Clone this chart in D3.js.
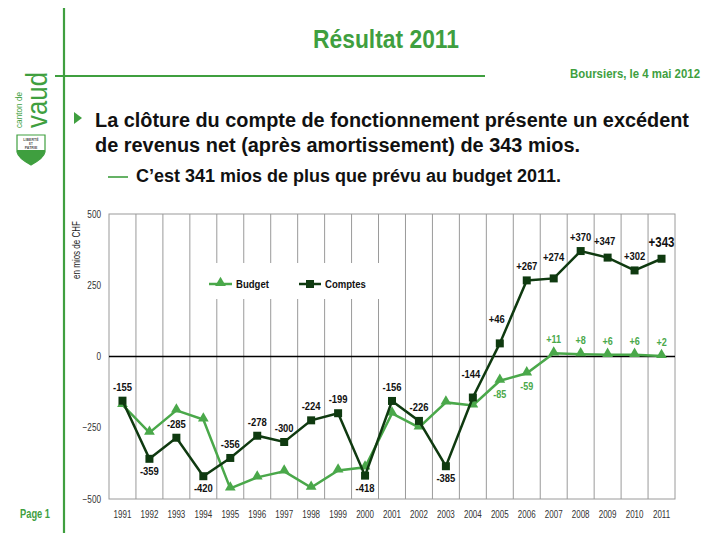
<!DOCTYPE html>
<html><head><meta charset="utf-8">
<script src="https://cdn.jsdelivr.net/npm/d3@7"></script>
<style>
html,body{margin:0;padding:0;background:#fff;}
svg{display:block;}
</style></head>
<body>
<svg id="c" width="720" height="540"></svg>
<script>
// ---- data ----
const years = ["1991","1992","1993","1994","1995","1996","1997","1998","1999","2000","2001","2002","2003","2004","2005","2006","2007","2008","2009","2010","2011"];
const comptes = [-155,-359,-285,-420,-356,-278,-300,-224,-199,-418,-156,-226,-385,-144,46,267,274,370,347,302,343];
const budget = [-170,-267,-189,-221,-463,-424,-403,-460,-400,-389,-200,-249,-161,-172,-85,-59,11,8,6,6,2];
const budgetLabelled = ["2005","2006","2007","2008","2009","2010","2011"];
const yTicks = [500,250,0,-250,-500];
const seriesNames = ["Budget","Comptes"];

// ---- layout / style ----
const FN = "'Liberation Sans Narrow','Arial Narrow','Liberation Sans',Arial,sans-serif";
const FW = "'Liberation Sans',Arial,Helvetica,sans-serif";
const G = "#3f9f3f";
const cBudget = "#4aa84a", cComptes = "#0f3a10";
const below = new Set(["1992","1994","2000","2003"]);
const extraUp = {"2004":[-2,-10],"2005":[-3,-10],"2007":[0,-7],"2009":[-3,-3],"2011":[0,-2]};

function condense(sel, f){
  sel.each(function(){
    const w = this.getComputedTextLength();
    d3.select(this).attr("textLength", w*f).attr("lengthAdjust","spacingAndGlyphs");
  });
  return sel;
}

const svg = d3.select("#c");

// slide decoration
svg.append("line").attr("x1",64).attr("x2",64).attr("y1",8).attr("y2",533).attr("stroke",G).attr("stroke-width",2.2);
svg.append("line").attr("x1",55).attr("x2",485).attr("y1",76).attr("y2",76).attr("stroke",G).attr("stroke-width",2.2);
svg.append("text").attr("x",386).attr("y",48).attr("text-anchor","middle").attr("font-family",FN).attr("font-weight","bold").attr("font-size",25).attr("fill",G).attr("textLength",146).attr("lengthAdjust","spacingAndGlyphs").text("Résultat 2011");
svg.append("text").attr("x",700).attr("y",78).attr("text-anchor","end").attr("font-family",FN).attr("font-weight","bold").attr("font-size",12.5).attr("fill",G).attr("textLength",130).attr("lengthAdjust","spacingAndGlyphs").text("Boursiers, le 4 mai 2012");
svg.append("text").attr("x",20).attr("y",518).attr("font-family",FN).attr("font-weight","bold").attr("font-size",12).attr("fill",G).attr("textLength",30).attr("lengthAdjust","spacingAndGlyphs").text("Page 1");

// logo
svg.append("text").attr("transform","translate(47,128) rotate(-90)").attr("font-family",FW).attr("font-size",29).attr("fill",G).attr("textLength",56).attr("lengthAdjust","spacingAndGlyphs").text("vaud");
svg.append("text").attr("transform","translate(22,128) rotate(-90)").attr("font-family",FW).attr("font-size",9.5).attr("fill",G).attr("textLength",36).attr("lengthAdjust","spacingAndGlyphs").text("canton de");
const sh = svg.append("g");
sh.append("path").attr("d","M17,150 L45,150 L45,152 Q44,158 31,165 Q18,158 17,152 Z").attr("fill",G);
sh.append("path").attr("d","M17,135 L45,135 L45,152 Q44,158 31,165 Q18,158 17,152 Z").attr("fill","none").attr("stroke",G).attr("stroke-width",1.2);
sh.append("text").attr("x",31).attr("y",141).attr("text-anchor","middle").attr("font-family",FW).attr("font-size",3.6).attr("font-weight","bold").attr("fill","#555").text("LIBERTÉ");
sh.append("text").attr("x",31).attr("y",145).attr("text-anchor","middle").attr("font-family",FW).attr("font-size",3).attr("font-weight","bold").attr("fill","#555").text("ET");
sh.append("text").attr("x",31).attr("y",149).attr("text-anchor","middle").attr("font-family",FW).attr("font-size",3.6).attr("font-weight","bold").attr("fill","#555").text("PATRIE");

// bullets
svg.append("path").attr("d","M74,112 L82,118 L74,124 Z").attr("fill",G);
svg.append("text").attr("x",95).attr("y",127).attr("font-family",FW).attr("font-weight","bold").attr("font-size",19.5).attr("fill","#111").attr("textLength",594).attr("lengthAdjust","spacingAndGlyphs").text("La clôture du compte de fonctionnement présente un excédent");
svg.append("text").attr("x",95).attr("y",152).attr("font-family",FW).attr("font-weight","bold").attr("font-size",19.5).attr("fill","#111").attr("textLength",485).attr("lengthAdjust","spacingAndGlyphs").text("de revenus net (après amortissement) de 343 mios.");
svg.append("line").attr("x1",108).attr("x2",128).attr("y1",177).attr("y2",177).attr("stroke",G).attr("stroke-width",1.6);
svg.append("text").attr("x",136).attr("y",182).attr("font-family",FW).attr("font-weight","bold").attr("font-size",17.5).attr("fill","#111").attr("textLength",425).attr("lengthAdjust","spacingAndGlyphs").text("C’est 341 mios de plus que prévu au budget 2011.");

// ---- chart ----
const L = 109, R = 675, T = 214, B = 499;
const x = d3.scaleBand().domain(years).range([L,R]).padding(0);
const y = d3.scaleLinear().domain([-500,500]).range([B,T]);
const cx = d => x(d) + x.bandwidth()/2;

const ch = svg.append("g");
ch.selectAll(".vg").data(years.slice(1)).join("line")
  .attr("x1",d=>x(d)).attr("x2",d=>x(d)).attr("y1",T).attr("y2",B)
  .attr("stroke","#9a9a9a").attr("stroke-width",1);
ch.append("rect").attr("x",L).attr("y",T).attr("width",R-L).attr("height",B-T).attr("fill","none").attr("stroke","#9a9a9a").attr("stroke-width",1);

// y axis
const ya = ch.append("g").attr("transform",`translate(${L},0)`)
  .call(d3.axisLeft(y).tickValues(yTicks).tickSize(0).tickPadding(8).tickFormat(d3.format("d")));
ya.select(".domain").remove();
condense(ya.selectAll("text").attr("font-family",FN).attr("font-size",10).attr("fill","#333"),0.82);
// x axis
const xa = ch.append("g").attr("transform",`translate(0,${B})`)
  .call(d3.axisBottom(x).tickSize(0).tickPadding(12));
xa.select(".domain").remove();
condense(xa.selectAll("text").attr("font-family",FN).attr("font-size",10).attr("fill","#333"),0.8);

condense(svg.append("text").attr("transform","translate(80,250) rotate(-90)").attr("text-anchor","middle").attr("font-family",FN).attr("font-size",10).attr("fill","#222").text("en mios de CHF"),0.8);

// zero line
ch.append("line").attr("x1",L).attr("x2",R).attr("y1",y(0)).attr("y2",y(0)).attr("stroke","#000").attr("stroke-width",1.5);

// legend
const lg = svg.append("g");
lg.append("rect").attr("x",204).attr("y",263).attr("width",178).attr("height",36).attr("fill","#fff");
const tri = d3.symbol().type(d3.symbolTriangle).size(50);
const sq = d3.symbol().type(d3.symbolSquare).size(64);
lg.append("line").attr("x1",209).attr("x2",232).attr("y1",284).attr("y2",284).attr("stroke",cBudget).attr("stroke-width",2.5);
lg.append("path").attr("d",tri).attr("transform","translate(220.5,283)").attr("fill",cBudget);
condense(lg.append("text").attr("x",236).attr("y",288).attr("font-family",FN).attr("font-weight","bold").attr("font-size",11.5).attr("fill","#111").text(seriesNames[0]),0.83);
lg.append("line").attr("x1",299).attr("x2",321).attr("y1",284).attr("y2",284).attr("stroke",cComptes).attr("stroke-width",2.5);
lg.append("path").attr("d",sq).attr("transform","translate(310,284)").attr("fill",cComptes);
condense(lg.append("text").attr("x",325).attr("y",288).attr("font-family",FN).attr("font-weight","bold").attr("font-size",11.5).attr("fill","#111").text(seriesNames[1]),0.83);

// lines
const bData = years.map((d,i)=>({year:d,v:budget[i]}));
const cData = years.map((d,i)=>({year:d,v:comptes[i]}));
const line = d3.line().x(d=>cx(d.year)).y(d=>y(d.v));
ch.append("path").datum(bData).attr("d",line).attr("fill","none").attr("stroke",cBudget).attr("stroke-width",2.5);
ch.selectAll(".bm").data(bData).join("path").attr("d",tri)
  .attr("transform",d=>`translate(${cx(d.year)},${y(d.v)-1})`).attr("fill",cBudget);
ch.append("path").datum(cData).attr("d",line).attr("fill","none").attr("stroke",cComptes).attr("stroke-width",2.5);
ch.selectAll(".cm").data(cData).join("path").attr("d",sq)
  .attr("transform",d=>`translate(${cx(d.year)},${y(d.v)})`).attr("fill",cComptes);

const fmt = v => (v>0?"+":"")+v;
// comptes labels
condense(ch.selectAll(".cl").data(cData).join("text")
  .attr("x",d=>cx(d.year)+(extraUp[d.year]?extraUp[d.year][0]:0))
  .attr("y",d=>y(d.v)+(below.has(d.year)?16:-10+(extraUp[d.year]?extraUp[d.year][1]:0)))
  .attr("text-anchor","middle").attr("font-family",FN).attr("font-weight","bold")
  .attr("font-size",d=>d.year==="2011"?14:11.5).attr("fill","#111").text(d=>fmt(d.v)),0.82);
// budget labels
condense(ch.selectAll(".bl").data(bData.filter(d=>budgetLabelled.includes(d.year))).join("text")
  .attr("x",d=>cx(d.year))
  .attr("y",d=>d.v<0 ? y(d.v)+17 : y(d.v)-10)
  .attr("text-anchor","middle").attr("font-family",FN).attr("font-weight","bold")
  .attr("font-size",11).attr("fill",cBudget).text(d=>fmt(d.v)),0.82);
</script>
</body></html>
